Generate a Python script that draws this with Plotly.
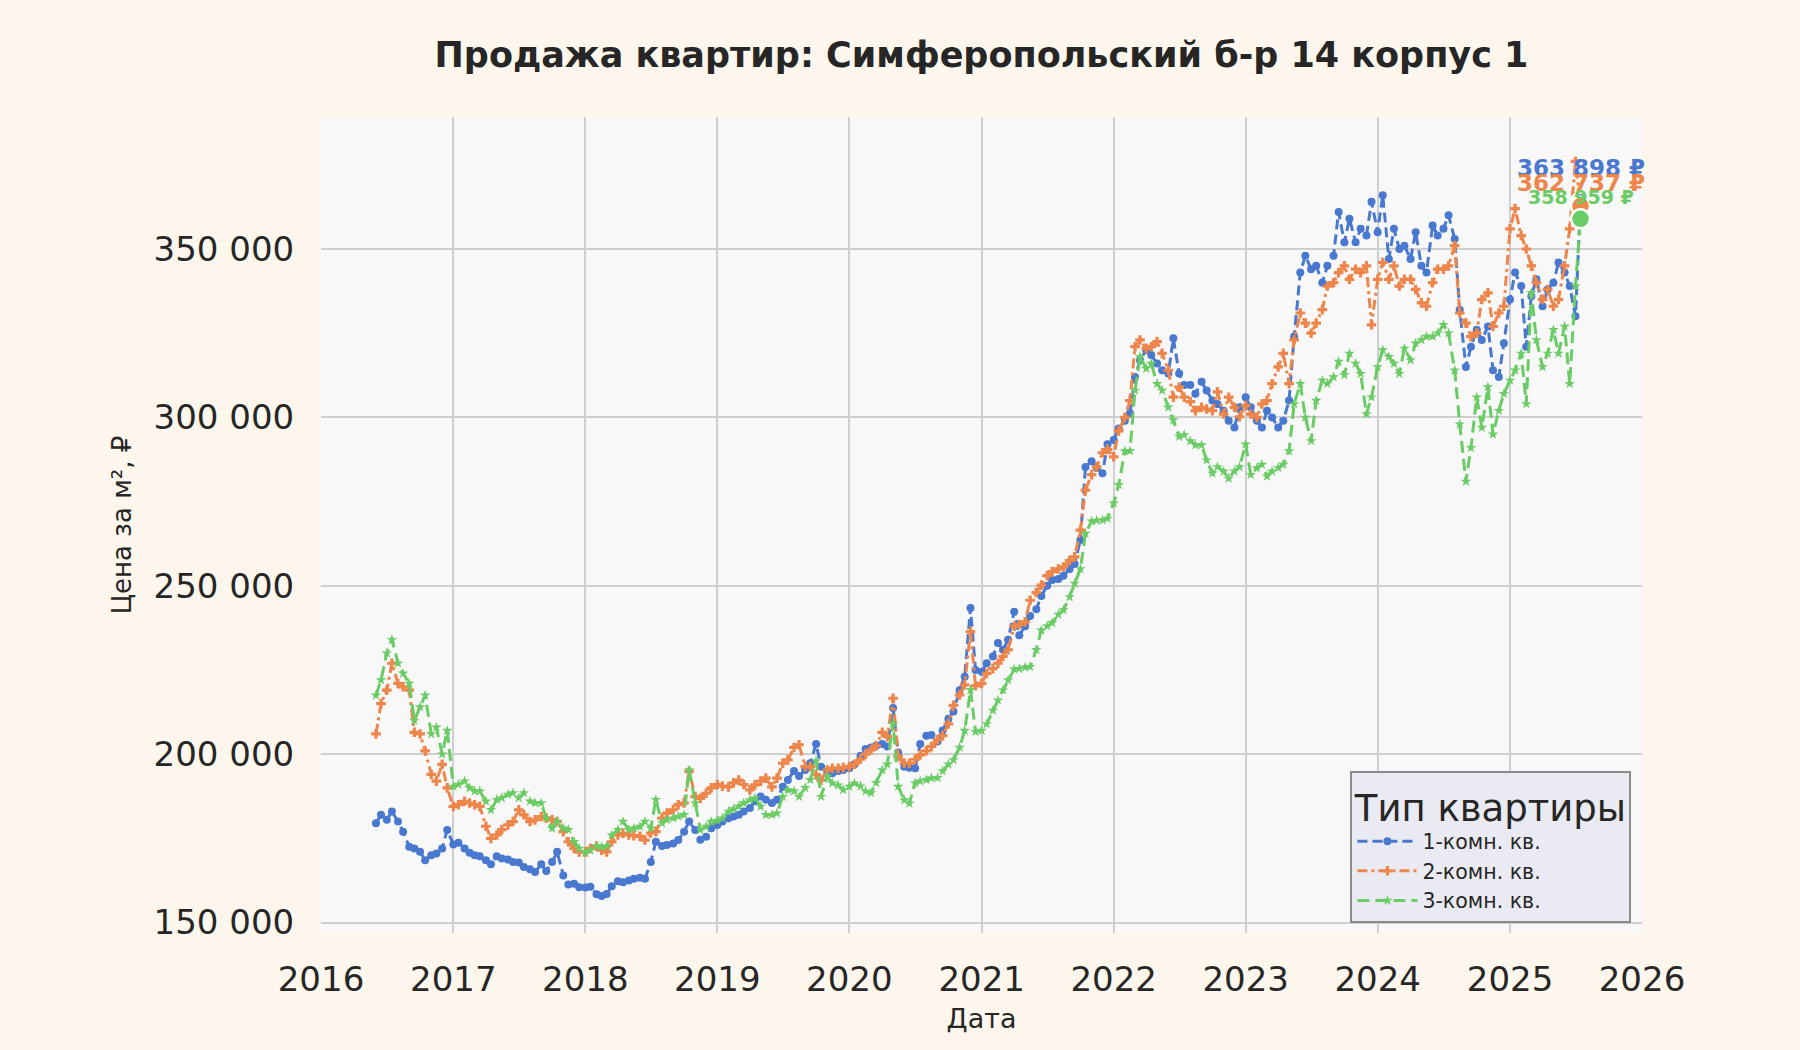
#!/usr/bin/env python3
"""
Price per m2 history for one building, three flat types
"""

import plotly.graph_objects as go
import pandas as pd

TITLE = "Продажа квартир: Симферопольский б-р 14 корпус 1"
SERIES_NAMES = ["1-комн. кв.", "2-комн. кв.", "3-комн. кв."]
COLORS = ["#4878d0", "#ee854a", "#6acc64"]

# sampling grid of the history: 1st and 15th of every month
DATES = pd.date_range("2016-06-01", "2025-07-15", freq="SMS")

# prices in thousand roubles per m2 (one row per year)
ONE_ROOM = [
    179.5, 182, 180.5, 183, 180, 177, 172.5, 172, 171, 168.5, 170, 170.5, 172, 177.5,
    173.2, 173.7, 172, 170.7, 170, 169.7, 168.5, 167.3, 169.7, 169, 168.7, 168,
    167.8, 166.5, 165.8, 165, 167.3, 165.3, 168, 171, 164, 161.3, 161.5, 160.5,
    160.4, 160.6, 158.4, 157.9, 158.5, 160.8, 162.3, 162, 162.5, 163, 163.3, 163,
    168, 174, 172.7, 173, 173.5, 174.5, 177, 180, 177.5, 174.6, 175.5, 178,
    179, 180, 181, 181.5, 182, 183, 184, 186, 187.4, 186.5, 185.5, 186.5,
    190.3, 192.3, 195, 193.5, 195.3, 197.3, 203, 196.3, 194.8, 194.3, 195, 195.3,
    195.8, 197, 199.5, 201.5, 202, 202.5, 203, 202.3, 213.7, 200.5, 196.3, 196,
    195.8, 203, 205.5, 205.7, 203.8, 207, 210.5, 212.7, 219, 223, 243.4, 225,
    224.5, 227, 229, 233, 231, 234, 242.3, 235.3, 238, 241, 243, 247,
    250, 251.7, 252, 253, 255, 256.5, 263.6, 285.3, 287, 285, 283.4, 292,
    293.3, 296.7, 299, 301.2, 312, 317, 320, 318.5, 316, 314, 313, 323.5,
    313, 309.6, 309.6, 307, 310.6, 308, 305, 304, 302, 299, 297, 303,
    306, 303, 299, 297, 302, 300, 297, 299, 305, 324, 343, 348,
    344, 345, 340, 345, 348, 361, 352, 359, 352, 356, 354, 364,
    355, 366, 347, 356, 350, 351, 347, 355, 345, 343, 357, 354,
    356, 360, 353, 332, 315, 321, 326, 323, 327, 314, 312, 322,
    335, 343, 339, 321, 336, 341, 333, 338, 340, 346, 343, 339, 330, 363.898,
]
TWO_ROOM = [
    206, 215, 219, 227, 221, 220, 219, 206.5, 206, 201, 194, 192, 197, 190,
    184.5, 185, 186, 185.5, 185, 184.5, 178.6, 175, 176, 177.6, 179, 180,
    183.5, 182, 180, 180.5, 181.5, 181, 180.5, 180, 177, 174, 172, 171,
    171, 172, 172.7, 171.5, 171, 174, 176, 176.5, 176, 175.8, 175.6, 174.5,
    176.6, 177, 181, 182.5, 183.5, 185, 185.5, 194.9, 187.4, 186.9, 188.4, 190,
    191, 190.5, 190.3, 191.5, 192.3, 191, 189.4, 190.9, 192, 192.9, 190.3, 192.9,
    197.3, 198.3, 202, 202.8, 196.3, 196.3, 193.9, 192.3, 195.3, 195.8, 195.8, 196,
    196.3, 197, 198.5, 200, 201.3, 202.5, 206.5, 205.2, 216.6, 199.3, 197.3, 197.3,
    198.5, 199.8, 201, 202.3, 204.3, 205.5, 209, 214.5, 217.6, 220.6, 236.4, 220.3,
    221, 224, 225.4, 227, 229, 231, 238, 238.5, 239.3, 245.7, 248, 250.2,
    253, 254.2, 255, 255.6, 257.5, 258.6, 266.5, 278.4, 283, 285.3, 289.5, 290.5,
    288.3, 296, 300, 305, 321, 323, 320.5, 321, 322.5, 319, 314, 306,
    309, 306, 304.7, 302, 303, 302.5, 302, 307.6, 301, 306, 303, 300.2,
    303.5, 301, 300, 304, 305, 310, 315, 319, 310, 323, 331, 328,
    325, 328, 332, 339, 340, 343, 345, 341, 344, 343, 345, 327.5,
    341, 346, 341, 345, 339, 341, 341, 338, 334, 333, 340, 344,
    344, 345, 351, 331, 328, 324, 325, 335, 337, 327, 331, 333,
    356, 362, 354, 350, 345, 340, 335, 338, 333, 335, 345, 356, 376, 362.737,
]
THREE_ROOM = [
    217.5, 222, 230, 234, 227, 224, 221, 210, 214, 217.5, 206, 208, 200, 207,
    190.4, 191, 192, 190, 189, 189, 186, 183.5, 186.5, 187, 188, 188.5,
    187, 188.5, 186, 185.5, 185.5, 181, 178, 180, 178, 177.6, 174, 172,
    170.7, 171.5, 172.7, 172.5, 172.7, 176, 177.6, 180, 177.6, 178, 178.5, 180,
    178, 186.5, 179.5, 180.5, 181, 181.5, 182, 195.3, 185.5, 177.5, 178.5, 180,
    180.3, 181, 183, 183.7, 184.5, 185.5, 186.4, 186.9, 184.5, 182, 182, 182.5,
    187.4, 189.4, 189, 187.4, 190, 192.4, 198, 187.4, 193.4, 191.4, 190.8, 189.4,
    190.4, 191.4, 190.5, 189, 188.5, 191.5, 195.3, 197, 209.2, 190.4, 186.4, 185.4,
    191.4, 192, 192.4, 192.9, 193, 195, 197, 198.3, 202, 207, 219.1, 206.7,
    207, 209, 213, 216, 219, 222, 225.2, 225.4, 225.8, 226, 231, 236.8,
    238, 239, 241.5, 242.8, 246.7, 250.7, 255, 265.5, 269.2, 269.4, 269.5, 270,
    274.5, 280, 290, 290, 308, 318, 314.5, 316, 310, 308, 303, 299.2,
    294.3, 294.8, 293, 291.8, 291.8, 287.3, 283.4, 285.3, 284, 281.9, 284, 285.3,
    292, 283, 285, 286, 282.5, 284, 285, 286, 290, 304, 310, 300,
    293, 305, 311, 310, 312, 316.6, 312.6, 319, 316, 313, 301, 306,
    315, 320, 318, 316, 313, 320.5, 317, 322, 323, 324, 324, 325,
    327.5, 325, 314, 298, 281, 291, 306, 297, 309, 295, 302, 307,
    311, 314, 319, 304, 337, 323, 315, 319, 326, 319, 327, 310, 339, 358.959,
]

Y_TICKS = [150000, 200000, 250000, 300000, 350000]

# line style per flat type
DASHES = ["10px,5px", "10px,4px,3px,4px", "12px,6px"]
SYMBOLS = ["circle", "cross", "star"]
LABEL_SHIFT = [34, 23, 22]       # px above the last point
LABEL_SIZE = [23, 23, 19]


def create_price_chart():
    """Price per m2 lines with the latest value marked"""
    fig = go.Figure()
    all_series = [ONE_ROOM, TWO_ROOM, THREE_ROOM]

    for name, vals, color, dash, symbol in zip(SERIES_NAMES, all_series, COLORS, DASHES, SYMBOLS):
        assert len(vals) == len(DATES), (name, len(vals), len(DATES))
        prices = [v * 1000 for v in vals]
        fig.add_trace(go.Scatter(
            x=DATES, y=prices,
            mode='lines+markers',
            name=name,
            line=dict(color=color, width=3, dash=dash),
            marker=dict(symbol=symbol, size=8, color=color, line=dict(width=0)),
        ))

    # latest value: big dot + label
    for vals, color, shift, size in zip(all_series, COLORS, LABEL_SHIFT, LABEL_SIZE):
        last = vals[-1] * 1000
        fig.add_trace(go.Scatter(
            x=[DATES[-1]], y=[last],
            mode='markers',
            marker=dict(size=19, color=color, line=dict(color='white', width=2.5)),
            showlegend=False, hoverinfo='skip',
        ))
        fig.add_annotation(
            x=DATES[-1], y=last,
            text=f"<b>{round(last):,} ₽</b>".replace(",", " "),
            showarrow=False, yshift=shift,
            font=dict(size=size, color=color),
        )

    fig.update_layout(
        width=1800, height=1050,
        paper_bgcolor='#fdf6ec',
        plot_bgcolor='#f8f8f8',
        margin=dict(l=321, r=158, t=117, b=117),
        separators='. ',
        font=dict(family='DejaVu Sans', color='#262626'),
        title=dict(
            text=f"<b>{TITLE}</b>",
            x=0.5, xref='paper', xanchor='center',
            y=1 - 55 / 1050, yref='container', yanchor='middle',
            font=dict(size=35, color='#262626'),
        ),
        legend=dict(
            title=dict(text='Тип квартиры', font=dict(size=37, color='#262626'), side='top center'),
            font=dict(size=20.5, color='#262626'),
            itemwidth=60,
            x=0.992, xanchor='right',
            y=0.012, yanchor='bottom',
            bgcolor='#eaeaf2',
            bordercolor='#8c8c8c',
            borderwidth=2,
        ),
        showlegend=True,
    )

    fig.update_xaxes(
        type='date',
        range=['2016-01-01', '2026-01-01'],
        dtick='M12', tick0='2016-01-01', tickformat='%Y',
        showgrid=True, gridcolor='#cfcfcf', gridwidth=2,
        zeroline=False,
        ticks='outside', ticklen=16, tickcolor='rgba(0,0,0,0)',
        tickfont=dict(size=34),
        title=dict(text='Дата', font=dict(size=27), standoff=11),
    )
    fig.update_yaxes(
        range=[146900, 389200],
        tickvals=Y_TICKS, tickformat=',d',
        showgrid=True, gridcolor='#cfcfcf', gridwidth=2,
        zeroline=False,
        ticks='outside', ticklen=19, tickcolor='rgba(0,0,0,0)',
        tickfont=dict(size=34),
        title=dict(text='Цена за м², ₽', font=dict(size=26), standoff=14),
    )

    return fig


if __name__ == "__main__":
    fig = create_price_chart()
    # drop the default page margin so the figure fills the window
    fig.write_html("out.html", config={'displayModeBar': False},
                   post_script="document.body.style.margin='0';"
                               "document.body.style.background='#fdf6ec';")
